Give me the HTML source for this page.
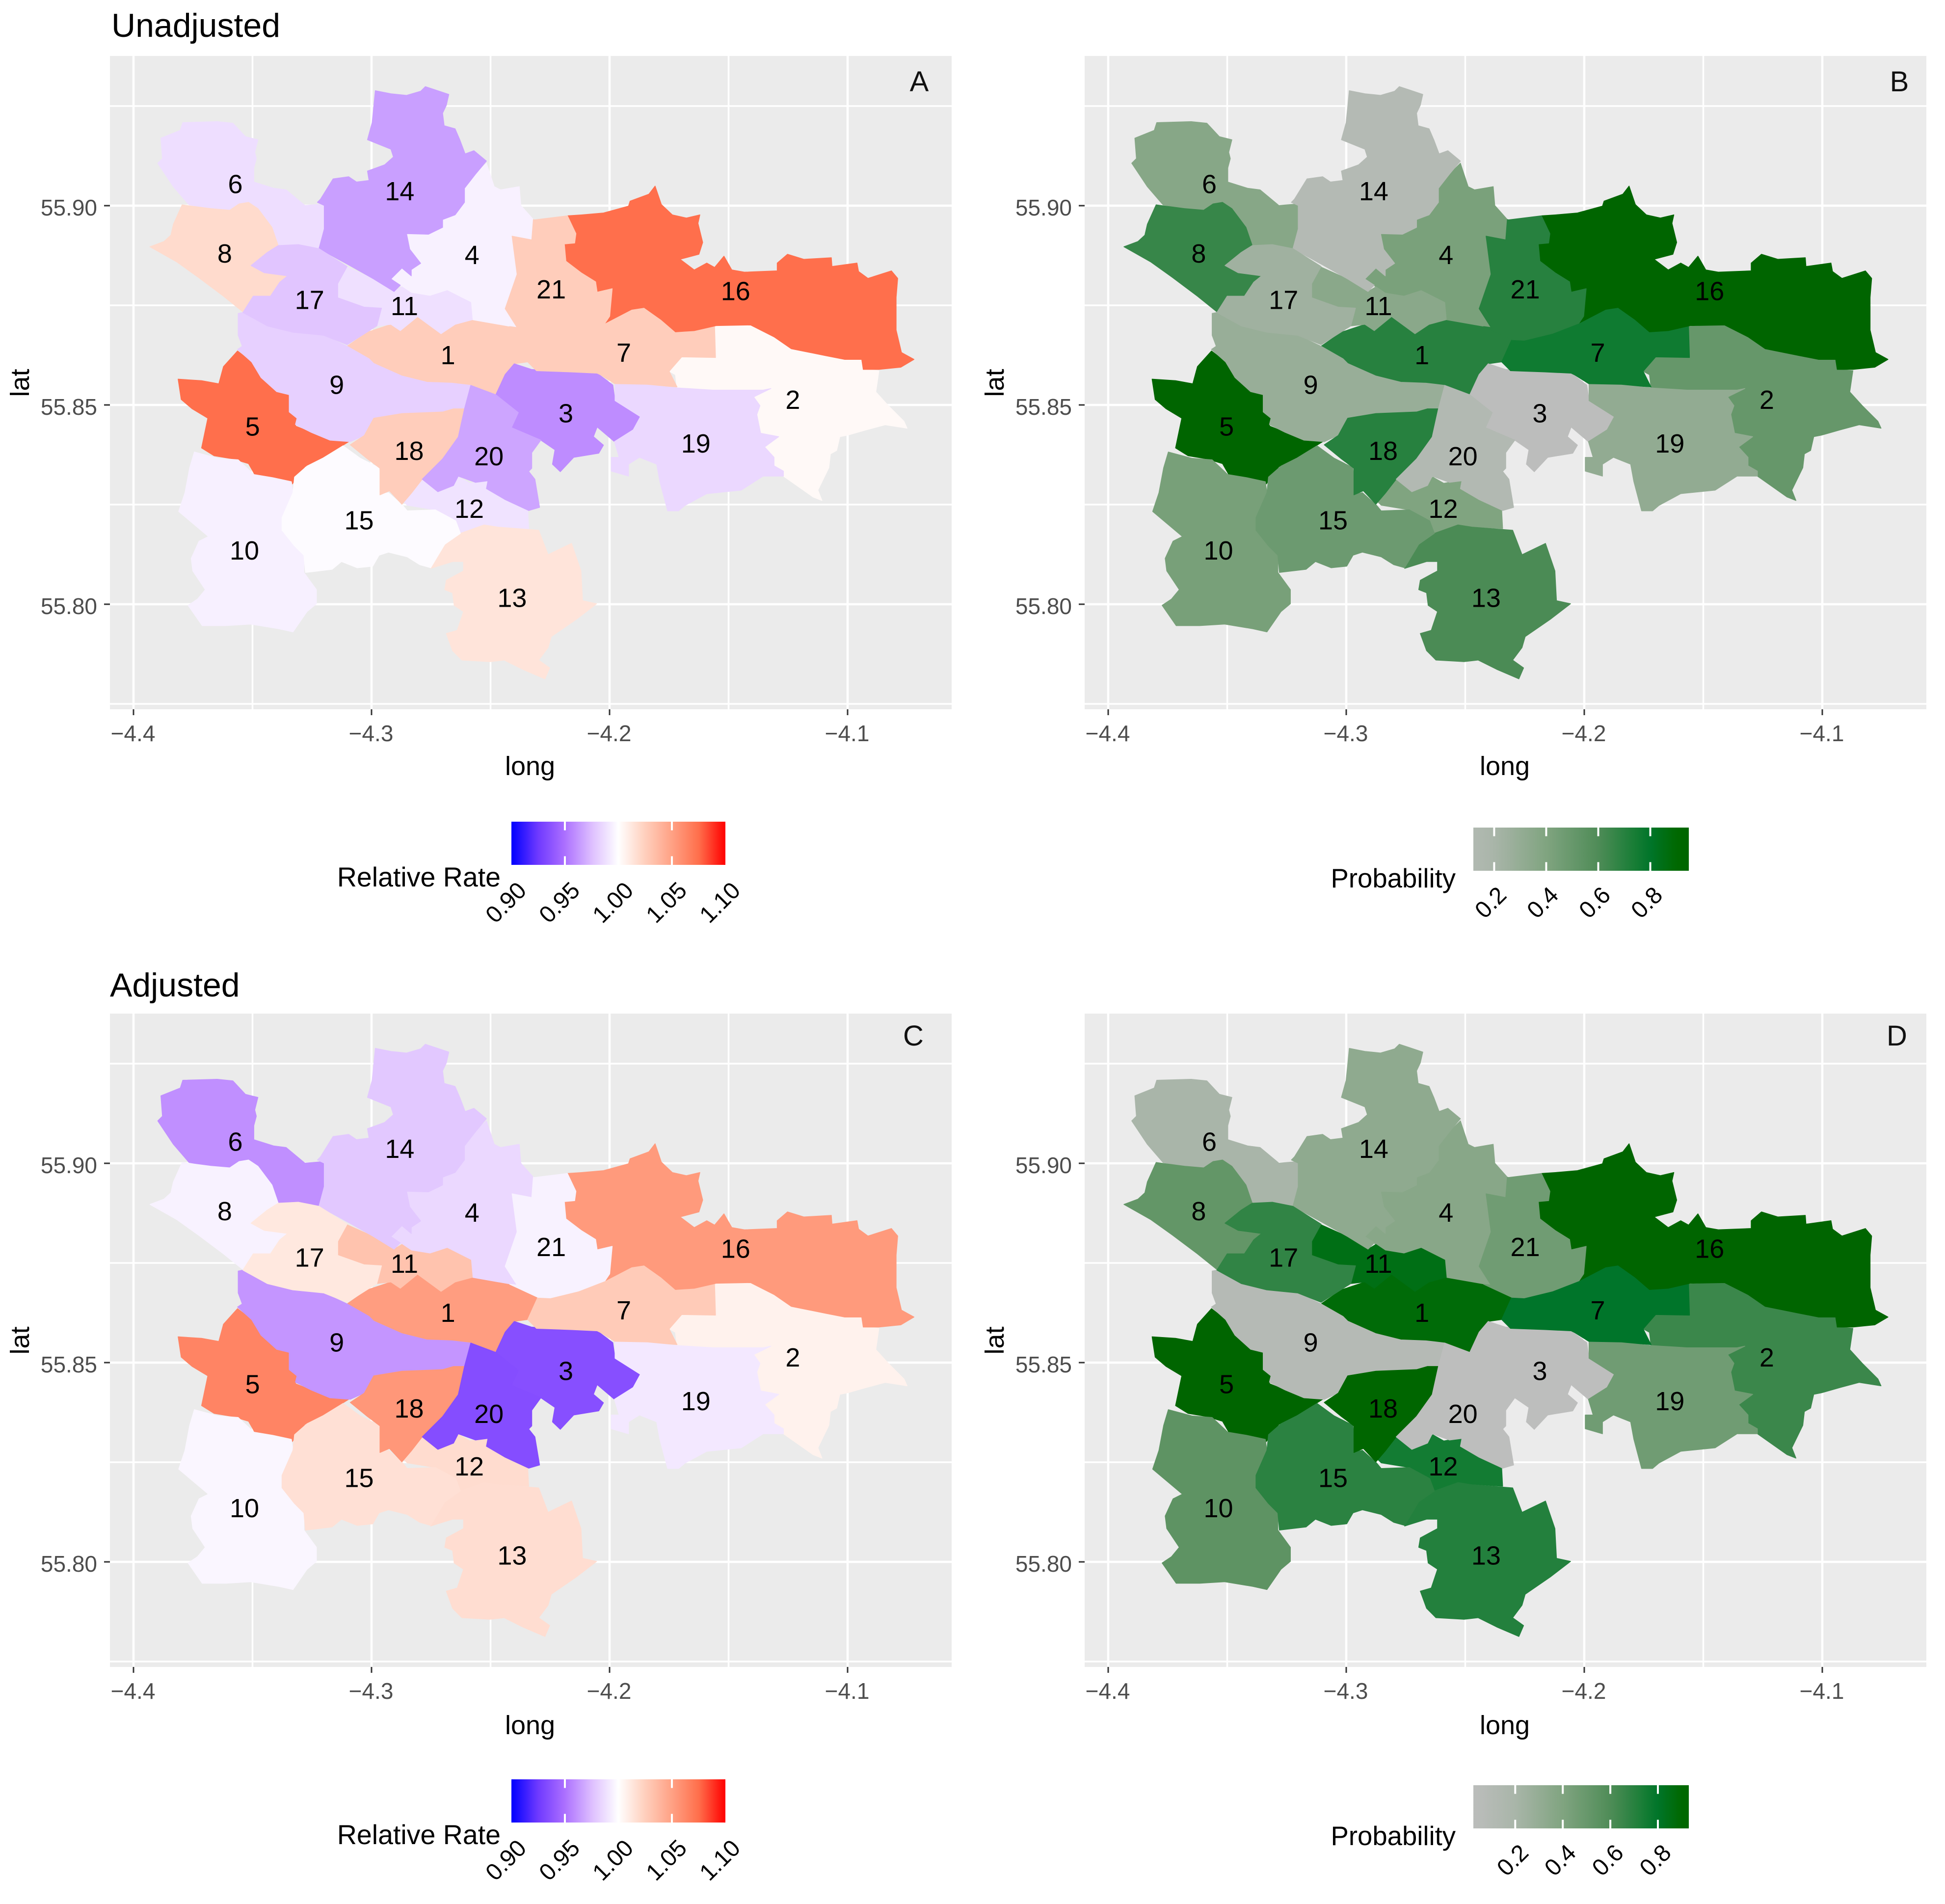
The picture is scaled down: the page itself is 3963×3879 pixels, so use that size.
<!DOCTYPE html>
<html lang="en">
<head>
<meta charset="utf-8">
<title>Relative rate and probability maps, unadjusted and adjusted</title>
<style>
html,body{margin:0;padding:0;background:#fff;}
svg{display:block;font-family:"Liberation Sans",sans-serif;}
</style>
</head>
<body>
<svg id="figure" xmlns="http://www.w3.org/2000/svg" width="3963" height="3879" viewBox="0 0 3963 3879">
<rect x="0" y="0" width="3963" height="3879" fill="#fff"/>
<defs id="defs"></defs>
<text x="227" y="75" font-size="68" fill="#000">Unadjusted</text>
<text x="224" y="2030" font-size="68" fill="#000">Adjusted</text>
</svg>
<script>
// Area boundaries: TopoJSON-style quantized integer coordinates, flat x,y pairs.
// mapGrid converts them to longitude and latitude.
const mapGrid = {scale:[0.0001315,-0.0000785], translate:[-4.4148,55.9393]};

const region1 = [795,950,860,905,935,880,965,900,1020,855,1095,910,1140,880,1195,865,1338,890,1404,929,1372,1000,1329,1006,1300,1040,1270,1105,1190,1075,1130,1068,1050,1065,970,1045,880,1005,865,990];
const region2 = [1964,887,2084,882,2159,920,2214,958,2324,980,2384,992,2439,992,2444,1024,2494,1028,2484,1096,2524,1140,2574,1190,2584,1212,2514,1201,2454,1217,2394,1234,2369,1239,2359,1283,2339,1294,2334,1338,2299,1410,2312,1443,2284,1432,2189,1365,2189,1349,2159,1332,2159,1305,2129,1272,2174,1239,2116,1228,2104,1168,2114,1140,2094,1112,2149,1085,2124,1090,1964,1090,1849,1083,1844,1041,1824,1030,1864,984,1972,980,1972,942];
const region3 = [1329,1006,1384,1024,1469,1030,1594,1036,1644,1074,1651,1124,1732,1175,1709,1217,1649,1255,1594,1208,1582,1239,1614,1266,1599,1292,1519,1305,1476,1351,1451,1327,1459,1281,1414,1250,1320,1210,1342,1162,1270,1105,1300,1040];
const region4 = [1240,365,1265,440,1285,450,1345,440,1350,500,1390,545,1385,610,1322,598,1338,720,1300,830,1338,890,1195,865,1190,810,1115,772,1060,790,1000,780,970,760,935,735,970,700,1000,725,1000,705,1030,685,995,640,985,590,1055,592,1100,570,1100,545,1140,530,1170,490,1170,445,1205,400];
const region5 = [445,965,490,1000,520,1050,570,1095,610,1105,610,1160,635,1180,630,1205,680,1225,740,1250,805,1252,720,1305,660,1335,620,1390,560,1370,500,1360,480,1325,430,1310,370,1300,330,1275,350,1180,300,1150,265,1120,255,1055,330,1060,385,1070,400,1015];
const region6 = [270,235,380,232,430,237,470,280,510,290,500,330,505,350,497,380,497,425,560,445,600,450,660,500,722,495,722,575,705,636,640,625,575,628,555,570,510,510,480,490,450,495,420,515,360,510,290,498,240,440,190,365,205,350,200,285,262,260];
const region7 = [1372,1000,1404,929,1444,931,1534,909,1619,876,1704,832,1744,826,1799,865,1844,904,1904,900,1969,887,1972,986,1864,984,1824,1030,1849,1080,1754,1074,1654,1072,1604,1041,1594,1036,1510,1032,1400,1028];
const region8 = [268,498,360,510,420,515,450,495,480,490,510,510,555,570,575,628,540,650,488,692,530,715,605,725,580,745,550,790,495,790,462,840,400,790,320,730,250,680,165,632,210,615,232,595,240,560];
const region9 = [447,845,462,842,540,885,620,905,720,915,795,950,865,990,880,1005,970,1045,1050,1065,1130,1068,1190,1075,1170,1150,1135,1150,1100,1160,970,1165,880,1180,850,1235,805,1255,740,1250,680,1225,630,1200,635,1180,610,1160,610,1105,570,1095,520,1050,490,1000,445,960,460,950,447,915];
const region10 = [307,1288,382,1308,447,1313,497,1360,557,1370,617,1383,622,1418,587,1498,587,1538,627,1588,657,1618,657,1673,697,1728,697,1773,667,1798,622,1863,577,1853,487,1838,407,1843,332,1843,287,1778,317,1758,342,1728,302,1668,297,1628,322,1573,352,1558,257,1478,277,1418,292,1338];
const region11 = [795,697,880,735,945,775,970,760,1000,780,1060,790,1115,772,1190,810,1195,865,1140,880,1095,910,1020,855,965,900,935,880,890,885,905,828,850,825,765,795,765,750];
const region12 = [1032,1373,1082,1413,1127,1398,1152,1368,1187,1388,1242,1378,1247,1408,1307,1443,1372,1473,1375,1533,1232,1523,1157,1548,1142,1508,1077,1473,987,1458,977,1448,1002,1388];
const region13 = [1157,1548,1232,1521,1277,1528,1407,1538,1437,1616,1512,1580,1542,1668,1547,1763,1592,1773,1527,1823,1447,1878,1437,1913,1407,1953,1442,1978,1427,2013,1357,1983,1297,1953,1252,1958,1162,1953,1132,1923,1112,1868,1147,1858,1167,1798,1137,1778,1132,1738,1107,1728,1112,1698,1167,1668,1167,1638,1132,1638,1062,1660,1107,1583];
const region14 = [885,133,935,143,985,148,1030,135,1045,120,1075,130,1120,145,1112,180,1100,205,1105,245,1140,255,1155,290,1172,335,1200,325,1240,358,1205,400,1170,445,1170,490,1140,530,1100,545,1100,570,1055,592,985,590,995,640,1030,685,1000,705,1000,725,970,700,935,735,965,755,945,775,880,735,800,690,705,638,722,575,722,500,700,490,710,480,750,415,800,408,825,425,865,420,860,390,915,370,943,345,935,320,860,290,875,235];
const region15 = [627,1368,667,1333,717,1308,782,1268,837,1308,897,1338,902,1423,927,1418,972,1458,987,1476,1077,1473,1142,1508,1157,1548,1107,1583,1062,1658,1027,1648,987,1623,927,1608,897,1618,877,1653,827,1658,777,1638,747,1663,662,1673,657,1618,627,1588,587,1538,587,1498,622,1418];
const region16 = [1499,533,1544,530,1614,524,1694,502,1699,486,1759,464,1779,438,1799,497,1834,530,1879,540,1922,530,1916,557,1931,618,1919,656,1859,672,1904,706,1944,684,1969,698,1999,662,2024,706,2064,713,2169,709,2169,684,2202,656,2254,672,2342,667,2344,695,2424,684,2429,711,2459,733,2534,709,2554,733,2549,794,2549,898,2566,970,2606,992,2564,1017,2494,1024,2444,1024,2439,992,2384,992,2324,980,2214,958,2159,920,2084,882,1974,884,1904,900,1844,904,1799,865,1744,826,1704,832,1619,876,1634,854,1642,766,1594,777,1589,744,1544,716,1494,678,1489,623,1522,620,1526,590];
const region17 = [488,692,540,650,575,628,640,625,705,638,795,695,765,750,765,795,850,825,905,828,890,885,795,945,720,915,620,905,540,885,462,842,495,790,550,790,580,745,605,725,530,715];
const region18 = [805,1265,850,1235,880,1180,970,1165,1100,1160,1135,1150,1170,1150,1150,1240,1100,1310,1035,1375,1000,1420,970,1455,930,1412,900,1425,900,1340,860,1310];
const region19 = [1651,1072,1754,1074,1849,1083,1964,1090,2124,1090,2149,1085,2094,1112,2114,1140,2104,1168,2116,1228,2174,1239,2129,1272,2159,1305,2159,1332,2189,1349,2189,1365,2124,1365,2054,1410,1944,1421,1874,1459,1854,1476,1819,1476,1794,1382,1784,1327,1729,1305,1694,1327,1694,1365,1639,1349,1639,1305,1664,1305,1649,1255,1709,1217,1732,1175,1651,1124];
const region20 = [1190,1075,1270,1105,1342,1162,1320,1210,1414,1250,1385,1290,1385,1340,1375,1350,1395,1375,1410,1465,1375,1475,1300,1440,1240,1405,1245,1380,1205,1385,1150,1365,1135,1395,1085,1415,1035,1375,1100,1310,1150,1240,1170,1150];
const region21 = [1390,545,1394,546,1499,533,1526,590,1522,620,1489,623,1494,678,1544,716,1589,744,1594,777,1642,766,1634,854,1619,876,1534,909,1444,931,1404,929,1314,887,1338,890,1300,830,1338,720,1322,598,1385,610];

const regionShapes = [region1,region2,region3,region4,region5,region6,region7,region8,region9,region10,region11,region12,region13,region14,region15,region16,region17,region18,region19,region20,region21];

// Label anchors in the same grid, index 0 is area 1
const labelGridX = [1117,2219,1494,1194,493,438,1679,404,762,467,978,1185,1322,963,833,2036,675,993,1909,1248,1447];
const labelGridY = [977,1120,1163,657,1205,430,969,652,1072,1601,820,1468,1753,453,1505,772,800,1283,1259,1300,767];

// Values per area, index 0 is area 1
const rateUnadjusted = [1.026,1.003,0.959,0.9946,1.075,0.9873,1.026,1.019,0.982,0.9942,0.988,0.9892,1.014,0.965,0.9985,1.075,0.9777,1.026,0.985,0.967,1.026];
const rateAdjusted = [1.052,1.007,0.935,0.985,1.0645,0.96,1.027,0.995,0.962,0.9965,1.0315,1.018,1.0175,0.979,1.016,1.0535,1.012,1.055,0.9912,0.934,0.995];
const probUnadjusted = [0.70,0.506,0.02,0.425,0.97,0.366,0.76,0.66,0.283,0.433,0.351,0.40,0.61,0.095,0.48,0.97,0.244,0.70,0.312,0.114,0.70];
const probAdjusted = [0.88,0.65,0.01,0.361,0.97,0.20,0.80,0.52,0.09,0.54,0.85,0.75,0.71,0.327,0.69,0.97,0.675,0.95,0.465,0.01,0.465];

// Colour scales
const rateStopValues = [0.90,0.925,0.95,0.975,1.00,1.025,1.05,1.075,1.10];
const rateStopColors = ['#0000ff','#6f39ff','#ac70ff','#ddbeff','#ffffff','#ffcfbd','#ffa184','#ff6f4c','#ff0000'];
const probStopValues = [0,0.2,0.4,0.6,0.75,0.8,0.9,1];
const probStopColors = ['#bebebe','#a9b5a9','#80a480','#4f8c57','#137c33','#00752a','#006800','#006400'];

// Axis ticks
const lonTickValues = [-4.4,-4.3,-4.2,-4.1];
const lonTickLabels = ['\u22124.4','\u22124.3','\u22124.2','\u22124.1'];
const lonMinorValues = [-4.35,-4.25,-4.15];
const latTickValues = [55.80,55.85,55.90];
const latTickLabels = ['55.80','55.85','55.90'];
const latMinorValues = [55.775,55.825,55.875,55.925];

// Legend domains and breaks
const rateLegendDomain = [0.90,1.10];
const rateLegendBreaks = [0.90,0.95,1.00,1.05,1.10];
const rateLegendLabels = ['0.90','0.95','1.00','1.05','1.10'];
const probLegendDomainB = [0.12,0.948];
const probLegendDomainD = [0.024,0.93];
const probLegendBreaks = [0.2,0.4,0.6,0.8];
const probLegendLabels = ['0.2','0.4','0.6','0.8'];

const svgNS = 'http://www.w3.org/2000/svg';
const figure = document.getElementById('figure');
const defs = document.getElementById('defs');

function make(tag, attrs, parent, text){
  const node = document.createElementNS(svgNS, tag);
  for (const k in attrs) node.setAttribute(k, attrs[k]);
  if (text !== undefined) node.textContent = text;
  parent.appendChild(node);
  return node;
}
function hexToRgb(h){ return [parseInt(h.slice(1,3),16),parseInt(h.slice(3,5),16),parseInt(h.slice(5,7),16)]; }
function interpolateColor(stopValues, stopColors, v){
  const n = stopValues.length;
  if (v <= stopValues[0]) return stopColors[0];
  if (v >= stopValues[n-1]) return stopColors[n-1];
  let i = 0;
  while (v > stopValues[i+1]) i++;
  const t = (v-stopValues[i])/(stopValues[i+1]-stopValues[i]);
  const a = hexToRgb(stopColors[i]), b = hexToRgb(stopColors[i+1]);
  return 'rgb('+a.map((c,j)=>Math.round(c+(b[j]-c)*t)).join(',')+')';
}
function rateColor(v){ return interpolateColor(rateStopValues, rateStopColors, v); }
function probColor(v){ return interpolateColor(probStopValues, probStopColors, v); }

// Axis functions for a panel with offset (dx, dy)
function xAxis(lon, p){ return 272 + (lon + 4.4) * 4850 + p.dx; }
function yAxis(lat, p){ return 419 + (55.9 - lat) * 8120 + p.dy; }
function gridLon(q){ return mapGrid.translate[0] + q * mapGrid.scale[0]; }
function gridLat(q){ return mapGrid.translate[1] + q * mapGrid.scale[1]; }

function drawPanel(p){
  const g = make('g', {}, figure);
  
  

  const bg = make('rect', {x:224+p.dx, y:114+p.dy, width:1715, height:1331, fill:'#ebebeb'}, g);
  
  

  const clipX1 = 224+p.dx, clipX2 = 1939+p.dx, clipY1 = 114+p.dy, clipY2 = 1445+p.dy;
  lonMinorValues.forEach(function(v){
    const l = make('line', {x1:xAxis(v,p), x2:xAxis(v,p), y1:clipY1, y2:clipY2, stroke:'#fff', 'stroke-width':3.5}, g);
    
    
  });
  latMinorValues.forEach(function(v){
    const l = make('line', {x1:clipX1, x2:clipX2, y1:yAxis(v,p), y2:yAxis(v,p), stroke:'#fff', 'stroke-width':3.5}, g);
    
    
  });
  lonTickValues.forEach(function(v,i){
    const l = make('line', {x1:xAxis(v,p), x2:xAxis(v,p), y1:clipY1, y2:clipY2, stroke:'#fff', 'stroke-width':4.5}, g);
    
    
    const t = make('line', {x1:xAxis(v,p), x2:xAxis(v,p), y1:clipY2, y2:clipY2+12, stroke:'#333', 'stroke-width':3}, g);
    
    
    const s = make('text', {x:xAxis(v,p)-1, y:1510+p.dy, 'font-size':46, fill:'#4d4d4d', 'text-anchor':'middle'}, g, lonTickLabels[i]);
    
    
  });
  latTickValues.forEach(function(v,i){
    const l = make('line', {x1:clipX1, x2:clipX2, y1:yAxis(v,p), y2:yAxis(v,p), stroke:'#fff', 'stroke-width':4.5}, g);
    
    
    const t = make('line', {x1:clipX1-12, x2:clipX1, y1:yAxis(v,p), y2:yAxis(v,p), stroke:'#333', 'stroke-width':3}, g);
    
    
    const s = make('text', {x:198+p.dx, y:yAxis(v,p)+20, 'font-size':46, fill:'#4d4d4d', 'text-anchor':'end'}, g, latTickLabels[i]);
    
    
  });

  const mapOffset = {dx:p.dx + p.mapDx, dy:p.dy};
  regionShapes.forEach(function(shape,i){
    let d = '';
    for (let k = 0; k < shape.length; k += 2){
      d += (k ? 'L' : 'M') + xAxis(gridLon(shape[k]),mapOffset).toFixed(1) + ' ' + yAxis(gridLat(shape[k+1]),mapOffset).toFixed(1);
    }
    const fill = p.color(p.values[i]);
    const area = make('path', {d:d+'Z', fill:fill, stroke:fill, 'stroke-width':1.5, 'stroke-linejoin':'round'}, g);
    
    
  });
  regionShapes.forEach(function(shape,i){
    const lbl = make('text', {x:xAxis(gridLon(labelGridX[i]),mapOffset), y:yAxis(gridLat(labelGridY[i]),mapOffset), dy:'0.36em', 'font-size':54, fill:'#000', 'text-anchor':'middle'}, g, String(i+1));
    
    
  });

  const xt = make('text', {x:1081+p.dx-1, y:1579+p.dy+p.longDy, 'font-size':54, fill:'#000', 'text-anchor':'middle'}, g, 'long');
  
  
  const yt = make('text', {x:0, y:0, transform:'translate('+(60+p.dx-1)+' '+(780+p.dy)+') rotate(-90)', 'font-size':54, fill:'#000', 'text-anchor':'middle'}, g, 'lat');
  
  
  const tag = make('text', {x:p.tagX, y:p.tagY, 'font-size':58, fill:'#111', 'text-anchor':'middle'}, g, p.key.toUpperCase());
  
  

  drawLegend(p, g);
}

function drawLegend(p, g){
  const L = p.legend;
  const gradId = 'legend-gradient-' + p.key;
  const grad = make('linearGradient', {id:gradId, x1:0, x2:1, y1:0, y2:0}, defs);
  const samples = 40;
  for (let i = 0; i <= samples; i++){
    const v = L.domain[0] + (L.domain[1]-L.domain[0]) * i / samples;
    make('stop', {offset:(i/samples), 'stop-color':p.color(v)}, grad);
  }
  const lx = function(v){ return L.x0 + (v-L.domain[0])/(L.domain[1]-L.domain[0])*(L.x1-L.x0); };
  const bar = make('rect', {x:L.x0, y:L.y0, width:L.x1-L.x0, height:L.y1-L.y0, fill:'url(#'+gradId+')'}, g);
  
  
  L.breaks.forEach(function(v,i){
    const h = (L.y1-L.y0)/5;
    const inner = v > L.domain[0] && v < L.domain[1];
    if (inner){
      const a = make('line', {x1:lx(v), x2:lx(v), y1:L.y0, y2:L.y0+h, stroke:'#fff', 'stroke-width':4}, g);
      
      
      const b = make('line', {x1:lx(v), x2:lx(v), y1:L.y1-h, y2:L.y1, stroke:'#fff', 'stroke-width':4}, g);
      
      
    }
    const cx = lx(v) + L.labelDx, cy = L.labelY;
    const t = make('text', {x:0, y:0, dy:'0.36em', transform:'translate('+cx+' '+cy+') rotate(-45)', 'font-size':48, fill:'#000', 'text-anchor':'middle'}, g, L.labels[i]);
    
    
  });
  const title = make('text', {x:L.titleX, y:L.titleY, 'font-size':L.titleSize, fill:'#000', 'text-anchor':'end'}, g, L.title);
  
  
}

const panelSpecs = [
  {key:'a', dx:0, dy:0, mapDx:0, longDy:0, values:rateUnadjusted, color:rateColor, tagX:1873, tagY:186,
   legend:{domain:rateLegendDomain, breaks:rateLegendBreaks, labels:rateLegendLabels, x0:1042, x1:1478, y0:1674, y1:1762, labelDx:-12, labelY:1838, title:'Relative Rate', titleX:1020, titleY:1806, titleSize:55.5}},
  {key:'b', dx:1986, dy:0, mapDx:-1.5, longDy:0, values:probUnadjusted, color:probColor, tagX:3870, tagY:186,
   legend:{domain:probLegendDomainB, breaks:probLegendBreaks, labels:probLegendLabels, x0:3002, x1:3441, y0:1686, y1:1774, labelDx:-8, labelY:1838, title:'Probability', titleX:2966, titleY:1808, titleSize:54.5}},
  {key:'c', dx:0, dy:1951, mapDx:0, longDy:3, values:rateAdjusted, color:rateColor, tagX:1861, tagY:2130,
   legend:{domain:rateLegendDomain, breaks:rateLegendBreaks, labels:rateLegendLabels, x0:1042, x1:1478, y0:3625, y1:3713, labelDx:-12, labelY:3789, title:'Relative Rate', titleX:1020, titleY:3757, titleSize:55.5}},
  {key:'d', dx:1986, dy:1951, mapDx:-1.5, longDy:3, values:probAdjusted, color:probColor, tagX:3865, tagY:2130,
   legend:{domain:probLegendDomainD, breaks:probLegendBreaks, labels:probLegendLabels, x0:3002, x1:3441, y0:3637, y1:3725, labelDx:-6, labelY:3789, title:'Probability', titleX:2966, titleY:3759, titleSize:54.5}}
];
panelSpecs.forEach(drawPanel);
</script>
</body>
</html>
